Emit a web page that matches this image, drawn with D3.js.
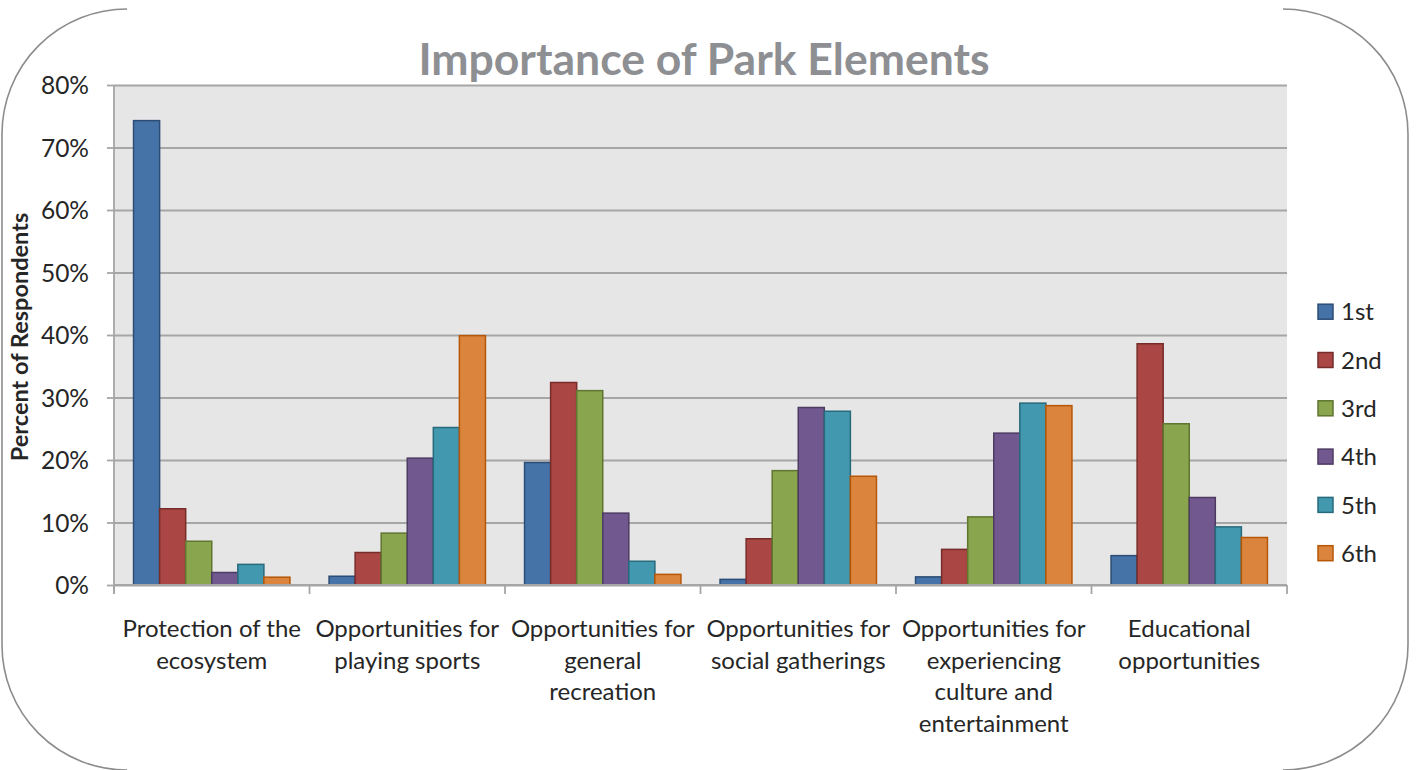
<!DOCTYPE html>
<html>
<head>
<meta charset="utf-8">
<script src="https://cdn.jsdelivr.net/npm/d3@7"></script>
<style>
  html, body { margin: 0; padding: 0; background: #ffffff; }
  svg { display: block; font-family: Lato, "Open Sans", sans-serif; }
</style>
</head>
<body>
<svg id="chart" width="1416" height="770"></svg>
<script>
// Survey categories (axis labels are wrapped onto the lines given below)
const categories = [
  "Protection of the ecosystem",
  "Opportunities for playing sports",
  "Opportunities for general recreation",
  "Opportunities for social gatherings",
  "Opportunities for experiencing culture and entertainment",
  "Educational opportunities"
];
const categoryLines = [
  ["Protection of the", "ecosystem"],
  ["Opportunities for", "playing sports"],
  ["Opportunities for", "general", "recreation"],
  ["Opportunities for", "social gatherings"],
  ["Opportunities for", "experiencing", "culture and", "entertainment"],
  ["Educational", "opportunities"]
];

// Rank series (percent of respondents)
const seriesNames = ["1st", "2nd", "3rd", "4th", "5th", "6th"];
const rank1st = [74.3, 1.4, 19.6, 0.9, 1.3, 4.7];
const rank2nd = [12.2, 5.2, 32.4, 7.4, 5.7, 38.6];
const rank3rd = [7.0, 8.3, 31.1, 18.3, 10.9, 25.8];
const rank4th = [2.0, 20.3, 11.5, 28.4, 24.3, 14.0];
const rank5th = [3.3, 25.2, 3.8, 27.8, 29.1, 9.3];
const rank6th = [1.25, 39.9, 1.7, 17.4, 28.7, 7.6];
const seriesValues = [rank1st, rank2nd, rank3rd, rank4th, rank5th, rank6th];

const yTicks = [0, 10, 20, 30, 40, 50, 60, 70, 80];

const fills   = ["#4572a7", "#aa4643", "#89a54e", "#71588f", "#4198af", "#db843d"];
const strokes = ["#2c4d75", "#772c2a", "#5f7530", "#4d3b62", "#276a7c", "#b65708"];

const svg = d3.select("#chart");
const plot = { left: 114, right: 1287, top: 85, bottom: 585 };
const textColor = "#262626";
const gridColor = "#a6a6a6";

// Outer frame: rounded corners and side edges
const frame = svg.append("g")
  .attr("fill", "none")
  .attr("stroke", "#8c8c8c")
  .attr("stroke-width", 1.6);
frame.append("path").attr("d", "M127,9 A125,125 0 0 0 2,134 L2,645 A125,125 0 0 0 127,770");
frame.append("path").attr("d", "M1283,9 A125,125 0 0 1 1408,134 L1408,645 A125,125 0 0 1 1283,770");

// Scales
const x0 = d3.scaleBand().domain(categories).range([plot.left, plot.right]).padding(0);
const x1 = d3.scaleBand().domain(seriesNames).range([0, x0.bandwidth()])
  .paddingInner(0).paddingOuter(0.75);
const y = d3.scaleLinear().domain([0, 80]).range([plot.bottom, plot.top]);
const color = d3.scaleOrdinal().domain(seriesNames).range(fills);
const edge = d3.scaleOrdinal().domain(seriesNames).range(strokes);

// Plot background
svg.append("rect")
  .attr("x", plot.left).attr("y", plot.top)
  .attr("width", plot.right - plot.left).attr("height", plot.bottom - plot.top)
  .attr("fill", "#e6e6e6");

// Horizontal gridlines
const grid = svg.append("g")
  .attr("transform", `translate(${plot.left},0)`)
  .call(d3.axisLeft(y).tickValues(yTicks).tickSize(-(plot.right - plot.left)).tickFormat(""));
grid.select(".domain").remove();
grid.selectAll(".tick line").attr("stroke", gridColor).attr("stroke-width", 1.8);

// Y axis with percent labels
const yAxis = svg.append("g")
  .attr("transform", `translate(${plot.left},0)`)
  .call(d3.axisLeft(y).tickValues(yTicks).tickSize(7).tickPadding(18).tickFormat(d => d + "%"));
yAxis.select(".domain").attr("stroke", gridColor).attr("stroke-width", 1.8)
  .attr("d", `M0,${plot.top}V${plot.bottom + 8}`);
yAxis.selectAll(".tick line").attr("stroke", gridColor).attr("stroke-width", 1.8);
yAxis.selectAll(".tick text")
  .attr("fill", textColor)
  .style("font-size", "24.5px")
  .style("font-family", "Lato, sans-serif")
  .attr("dy", "0.36em");

// Bars
const groups = svg.append("g").selectAll("g")
  .data(categories)
  .join("g")
  .attr("transform", c => `translate(${x0(c)},0)`);

groups.selectAll("rect")
  .data((c, i) => seriesNames.map((s, k) => ({ s, v: seriesValues[k][i] })))
  .join("rect")
  .attr("x", d => x1(d.s))
  .attr("y", d => y(d.v))
  .attr("width", x1.bandwidth())
  .attr("height", d => y(0) - y(d.v))
  .attr("fill", d => color(d.s))
  .attr("stroke", d => edge(d.s))
  .attr("stroke-width", 1.5);

// X axis baseline and category boundary ticks
svg.append("line")
  .attr("x1", plot.left).attr("x2", plot.right)
  .attr("y1", plot.bottom).attr("y2", plot.bottom)
  .attr("stroke", gridColor).attr("stroke-width", 1.8);
const bounds = categories.map(c => x0(c)).concat([x0(categories[categories.length - 1]) + x0.bandwidth()]);
svg.append("g").selectAll("line")
  .data(bounds)
  .join("line")
  .attr("x1", d => d).attr("x2", d => d)
  .attr("y1", plot.bottom).attr("y2", plot.bottom + 9)
  .attr("stroke", gridColor).attr("stroke-width", 1.8);

// Category labels
const catLabels = svg.append("g")
  .attr("fill", textColor)
  .style("font-size", "24px")
  .attr("text-anchor", "middle");
categories.forEach((c, i) => {
  const t = catLabels.append("text")
    .attr("x", x0(c) + x0.bandwidth() / 2)
    .attr("y", 637);
  categoryLines[i].forEach((line, j) => {
    t.append("tspan")
      .attr("x", x0(c) + x0.bandwidth() / 2)
      .attr("dy", j === 0 ? 0 : 31.5)
      .text(line);
  });
});

// Title
svg.append("text")
  .attr("x", 704).attr("y", 75)
  .attr("text-anchor", "middle")
  .attr("fill", "#8e8f93")
  .style("font-size", "44.5px")
  .style("font-weight", "bold")
  .text("Importance of Park Elements");

// Y axis title
svg.append("text")
  .attr("transform", "translate(28,337) rotate(-90)")
  .attr("text-anchor", "middle")
  .attr("fill", textColor)
  .style("font-size", "23.5px")
  .style("font-weight", "bold")
  .text("Percent of Respondents");

// Legend
const legend = svg.append("g");
const legendY = [311.7, 360, 408.3, 456.6, 504.9, 553.2];
seriesNames.forEach((s, k) => {
  const g = legend.append("g").attr("transform", `translate(1318,${legendY[k]})`);
  g.append("rect")
    .attr("x", 0).attr("y", -7.5)
    .attr("width", 15).attr("height", 15)
    .attr("fill", color(s)).attr("stroke", edge(s)).attr("stroke-width", 1.5);
  g.append("text")
    .attr("x", 23).attr("y", 0).attr("dy", "0.36em")
    .attr("fill", textColor)
    .style("font-size", "24px")
    .text(s);
});
</script>
</body>
</html>
